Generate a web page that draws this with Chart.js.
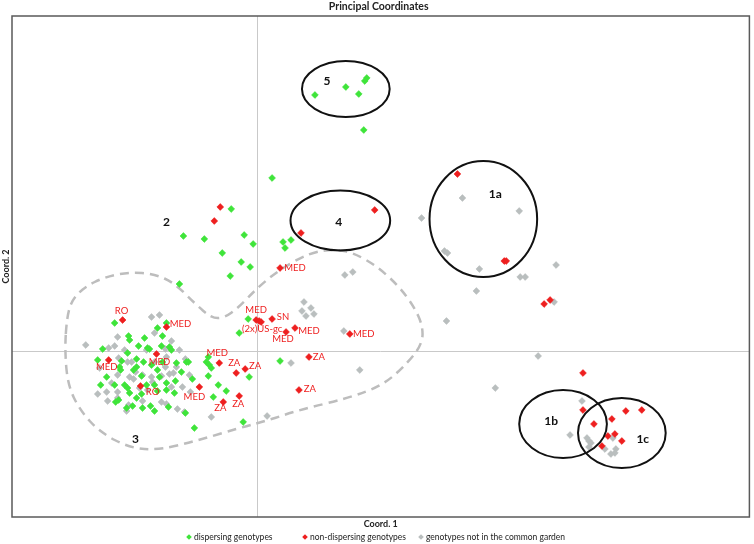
<!DOCTYPE html>
<html>
<head>
<meta charset="utf-8">
<title>Principal Coordinates</title>
<script src="https://cdn.jsdelivr.net/npm/chart.js@4.4.1/dist/chart.umd.min.js"></script>
<style>
    html, body { margin: 0; padding: 0; background: #fff; }
    #pcoaChart { display: block; }
</style>
</head>
<body>
<canvas id="pcoaChart" width="754" height="544"></canvas>
<script>
// Axis ranges (PCoA units)
const xRange = [-0.246, 0.494];
const yRange = [-0.166, 0.335];

// dispersing genotypes [coord1, coord2]
const dispersing = [
    [0.058, 0.256], [0.089, 0.264], [0.102, 0.257], [0.108, 0.270], [0.110, 0.273], [0.107, 0.221],
    [0.015, 0.173], [-0.026, 0.142], [-0.074, 0.115], [-0.053, 0.112], [-0.013, 0.116], [-0.004, 0.107],
    [-0.035, 0.098], [-0.016, 0.089], [-0.007, 0.084], [0.026, 0.109], [0.034, 0.111], [0.028, 0.103],
    [-0.027, 0.075], [-0.078, 0.067], [-0.009, 0.032], [-0.018, 0.018], [0.023, -0.010], [-0.008, -0.026],
    [-0.014, -0.071], [-0.063, -0.077], [-0.072, -0.062], [-0.049, -0.006], [-0.051, -0.011], [-0.048, -0.014],
    [-0.046, -0.017], [-0.069, -0.011], [-0.065, -0.028], [-0.049, -0.025], [-0.039, -0.034], [-0.031, -0.040],
    [-0.044, -0.046],
    [-0.143, 0.028], [-0.091, 0.028], [-0.100, 0.023], [-0.129, 0.015], [-0.113, 0.013], [-0.095, 0.015],
    [-0.130, -0.002], [-0.119, 0.005], [-0.110, 0.003], [-0.096, 0.005], [-0.088, 0.004], [-0.155, 0.002],
    [-0.160, -0.009], [-0.138, -0.016], [-0.136, -0.010], [-0.121, -0.008], [-0.114, -0.011], [-0.095, -0.011],
    [-0.081, -0.012], [-0.071, -0.011], [-0.151, -0.026], [-0.124, -0.019], [-0.100, -0.019], [-0.076, -0.021],
    [-0.157, -0.034], [-0.133, -0.034], [-0.130, -0.037], [-0.103, -0.034], [-0.091, -0.032], [-0.128, -0.042],
    [-0.121, -0.047], [-0.100, -0.040], [-0.091, -0.039], [-0.083, -0.042], [-0.142, -0.051], [-0.139, -0.049],
    [-0.125, -0.055], [-0.107, -0.055], [-0.115, -0.057], [-0.103, -0.060], [-0.131, -0.057], [-0.089, -0.056],
    [-0.143, -0.034], [-0.108, 0.002], [-0.086, 0.001], [-0.137, -0.019], [-0.116, -0.025], [-0.098, -0.026],
    [-0.128, 0.011], [-0.082, -0.030], [-0.121, -0.016], [-0.106, -0.014], [-0.111, -0.034], [-0.116, -0.043]
];

// non-dispersing genotypes [coord1, coord2]
const nonDispersing = [
    [-0.135, 0.031], [-0.091, 0.024], [-0.101, -0.003], [-0.149, -0.009], [-0.117, -0.035],
    [-0.001, 0.031], [0.002, 0.030], [0.004, 0.029], [0.015, 0.032], [0.029, 0.019], [0.038, 0.023],
    [-0.038, -0.012], [-0.021, -0.022], [-0.012, -0.018], [-0.058, -0.036], [-0.034, -0.051], [-0.018, -0.045],
    [0.042, -0.039], [0.023, 0.083], [0.052, -0.006], [0.093, 0.017],
    [-0.037, 0.144], [-0.043, 0.130], [0.044, 0.118], [0.118, 0.141], [0.201, 0.177],
    [0.248, 0.090], [0.250, 0.090], [0.288, 0.047], [0.294, 0.051],
    [0.327, -0.022], [0.327, -0.059], [0.338, -0.073], [0.356, -0.068], [0.370, -0.060], [0.386, -0.059],
    [0.352, -0.085], [0.359, -0.083], [0.366, -0.090], [0.346, -0.095]
];

// genotypes not in the common garden [coord1, coord2]
const notInGarden = [
    [-0.106, 0.034], [-0.098, 0.036], [-0.103, 0.018], [-0.086, 0.010], [-0.140, 0.014], [-0.149, 0.003],
    [-0.143, 0.005], [-0.092, 0.002], [-0.078, 0.001], [-0.172, 0.006], [-0.139, -0.007], [-0.130, -0.011],
    [-0.103, -0.011], [-0.091, -0.006], [-0.081, -0.016], [-0.072, -0.008], [-0.140, -0.024], [-0.115, -0.024],
    [-0.106, -0.026], [-0.096, -0.025], [-0.084, -0.022], [-0.068, -0.024], [-0.146, -0.032], [-0.124, -0.028],
    [-0.105, -0.031], [-0.160, -0.043], [-0.151, -0.041], [-0.140, -0.041], [-0.110, -0.039], [-0.075, -0.036],
    [-0.067, -0.041], [-0.140, -0.047], [-0.150, -0.050], [-0.115, -0.050], [-0.096, -0.051], [-0.091, -0.053],
    [-0.131, -0.060], [-0.080, -0.058], [-0.073, -0.061], [-0.122, -0.021], [-0.046, -0.066], [0.010, -0.065],
    [0.034, -0.012], [0.103, -0.019], [-0.158, -0.017], [-0.133, 0.001], [-0.118, -0.037],
    [-0.111, 0.001], [-0.126, -0.011], [-0.092, -0.016], [-0.128, -0.026], [-0.088, -0.023], [-0.086, -0.036],
    [-0.129, -0.054],
    [0.047, 0.049], [0.045, 0.040], [0.054, 0.043], [0.049, 0.035], [0.057, 0.037], [0.087, 0.020],
    [0.088, 0.076], [0.096, 0.079], [0.206, 0.153], [0.165, 0.133], [0.263, 0.140], [0.188, 0.100],
    [0.191, 0.098], [0.223, 0.082], [0.264, 0.074], [0.269, 0.074], [0.300, 0.086], [0.220, 0.060],
    [0.298, 0.049], [0.190, 0.030], [0.282, -0.005], [0.239, -0.037], [0.326, -0.050], [0.314, -0.084],
    [0.331, -0.087], [0.333, -0.090], [0.333, -0.096], [0.349, -0.098], [0.357, -0.087], [0.360, -0.098],
    [0.359, -0.102], [0.355, -0.103], [0.335, -0.092]
];

// origin labels of non-dispersing genotypes [text, coord1, coord2]
const originLabels = [
    ['RO', -0.136, 0.040], ['MED', -0.077, 0.027], ['MED', -0.098, -0.011], ['MED', -0.151, -0.016],
    ['RO', -0.105, -0.041], ['MED', -0.001, 0.041], ['SN', 0.026, 0.034], ['(2x)US-gc', 0.005, 0.022],
    ['MED', 0.026, 0.012], ['MED', 0.052, 0.020], ['MED', -0.040, -0.002], ['ZA', -0.023, -0.012],
    ['ZA', -0.002, -0.015], ['MED', -0.063, -0.046], ['ZA', -0.037, -0.057], ['ZA', -0.019, -0.053],
    ['ZA', 0.053, -0.038], ['MED', 0.038, 0.083], ['ZA', 0.062, -0.006], ['MED', 0.107, 0.017]
];

// groups circled [name, centre coord1, centre coord2, radius coord1, radius coord2]
const groupEllipses = [
    ['5', 0.089, 0.262, 0.044, 0.028],
    ['4', 0.0835, 0.1305, 0.050, 0.030],
    ['1a', 0.227, 0.132, 0.054, 0.058],
    ['1b', 0.307, -0.073, 0.044, 0.034],
    ['1c', 0.366, -0.082, 0.044, 0.035]
];

// group names [text, coord1, coord2]
const groupLabels = [
    ['5', 0.070, 0.270], ['4', 0.082, 0.129], ['1a', 0.239, 0.157], ['1b', 0.295, -0.070],
    ['1c', 0.387, -0.088], ['2', -0.091, 0.129], ['3', -0.122, -0.088]
];

// outline of group 3 (dashed)
const group3Outline = [
    [-0.191, 0.033], [-0.186, 0.051], [-0.173, 0.064], [-0.153, 0.074], [-0.128, 0.079], [-0.103, 0.077],
    [-0.083, 0.068], [-0.063, 0.048], [-0.046, 0.033], [-0.033, 0.033], [-0.018, 0.044], [0.000, 0.063],
    [0.022, 0.081], [0.052, 0.098], [0.077, 0.102], [0.097, 0.098], [0.120, 0.085], [0.142, 0.065],
    [0.157, 0.045], [0.166, 0.026], [0.166, 0.008], [0.152, -0.011], [0.127, -0.034], [0.092, -0.047],
    [0.042, -0.059], [0.012, -0.069], [-0.018, -0.077], [-0.058, -0.089], [-0.098, -0.099], [-0.128, -0.097],
    [-0.158, -0.081], [-0.178, -0.059], [-0.190, -0.034], [-0.193, 0.001]
];

const seriesNames = ['dispersing genotypes', 'non-dispersing genotypes', 'genotypes not in the common garden'];

const GREEN = '#3fe43a';
const RED = '#ee1f1f';
const GRAY = '#b9bebe';
const FONT = "Lato, 'Open Sans', sans-serif";

/**
 * Turn [x, y] pairs into Chart.js points
 */
function toPoints(list) {
    return list.map(p => ({ x: p[0], y: p[1] }));
}

/**
 * Build one scatter dataset
 */
function makeDataset(label, list, color, order) {
    return {
        label: label,
        data: toPoints(list),
        pointStyle: 'rectRot',
        pointRadius: 3.4,
        pointBorderWidth: 0.6,
        backgroundColor: color,
        borderColor: color,
        order: order
    };
}

// Draws zero lines, outlines, labels, frame, titles and legend
const decorPlugin = {
    id: 'decor',
    beforeDatasetsDraw(chart) {
        const { ctx, chartArea: a, scales: { x, y } } = chart;
        ctx.save();

        // zero lines
        ctx.strokeStyle = '#c9c9c9';
        ctx.lineWidth = 1;
        const x0 = Math.round(x.getPixelForValue(0)) + 0.5;
        const y0 = Math.round(y.getPixelForValue(0)) + 0.5;
        ctx.beginPath();
        ctx.moveTo(x0, a.top);
        ctx.lineTo(x0, a.bottom);
        ctx.moveTo(a.left, y0);
        ctx.lineTo(a.right, y0);
        ctx.stroke();

        // dashed outline of group 3, smoothed through midpoints
        const pts = group3Outline.map(p => [x.getPixelForValue(p[0]), y.getPixelForValue(p[1])]);
        const n = pts.length;
        const mid = (p, q) => [(p[0] + q[0]) / 2, (p[1] + q[1]) / 2];
        ctx.strokeStyle = '#bdbdbd';
        ctx.lineWidth = 2.5;
        ctx.setLineDash([9, 6]);
        ctx.beginPath();
        let start = mid(pts[n - 1], pts[0]);
        ctx.moveTo(start[0], start[1]);
        for (let i = 0; i < n; i++) {
            const m = mid(pts[i], pts[(i + 1) % n]);
            ctx.quadraticCurveTo(pts[i][0], pts[i][1], m[0], m[1]);
        }
        ctx.stroke();
        ctx.setLineDash([]);
        ctx.restore();
    },
    afterDatasetsDraw(chart) {
        const { ctx, chartArea: a, scales: { x, y } } = chart;
        ctx.save();

        // group ellipses
        ctx.strokeStyle = '#111';
        ctx.lineWidth = 2;
        groupEllipses.forEach(e => {
            const cx = x.getPixelForValue(e[1]);
            const cy = y.getPixelForValue(e[2]);
            const rx = Math.abs(x.getPixelForValue(e[1] + e[3]) - cx);
            const ry = Math.abs(y.getPixelForValue(e[2] + e[4]) - cy);
            ctx.beginPath();
            ctx.ellipse(cx, cy, rx, ry, 0, 0, Math.PI * 2);
            ctx.stroke();
        });

        // origin labels
        ctx.fillStyle = RED;
        ctx.font = '9.5px ' + FONT;
        ctx.textAlign = 'center';
        ctx.textBaseline = 'middle';
        originLabels.forEach(l => {
            ctx.fillText(l[0], x.getPixelForValue(l[1]), y.getPixelForValue(l[2]));
        });

        // group names
        ctx.fillStyle = '#111';
        ctx.font = 'bold 12px ' + FONT;
        groupLabels.forEach(l => {
            ctx.fillText(l[0], x.getPixelForValue(l[1]), y.getPixelForValue(l[2]));
        });

        // plot frame
        ctx.strokeStyle = '#5a5a5a';
        ctx.lineWidth = 1.5;
        ctx.strokeRect(a.left, a.top, a.right - a.left, a.bottom - a.top);

        // chart title and axis titles
        const cx = (a.left + a.right) / 2;
        ctx.fillStyle = '#222';
        ctx.font = 'bold 10.5px ' + FONT;
        ctx.fillText('Principal Coordinates', cx - 2, 7);
        ctx.font = 'bold 9px ' + FONT;
        ctx.fillText('Coord. 1', cx, 524);
        ctx.save();
        ctx.translate(6, (a.top + a.bottom) / 2);
        ctx.rotate(-Math.PI / 2);
        ctx.fillText('Coord. 2', 0, 0);
        ctx.restore();

        // legend
        const colors = [GREEN, RED, GRAY];
        const markerX = [189, 305, 421];
        ctx.font = '8.5px ' + FONT;
        ctx.textAlign = 'left';
        seriesNames.forEach((name, i) => {
            const mx = markerX[i];
            const my = 537;
            ctx.fillStyle = colors[i];
            ctx.beginPath();
            ctx.moveTo(mx, my - 2.8);
            ctx.lineTo(mx + 2.8, my);
            ctx.lineTo(mx, my + 2.8);
            ctx.lineTo(mx - 2.8, my);
            ctx.closePath();
            ctx.fill();
            ctx.fillStyle = '#222';
            ctx.fillText(name, mx + 5, my);
        });
        ctx.restore();
    }
};

/**
 * Create the PCoA scatter chart
 */
function initPcoaChart() {
    const ctx = document.getElementById('pcoaChart').getContext('2d');
    window.pcoaChart = new Chart(ctx, {
        type: 'scatter',
        data: {
            datasets: [
                makeDataset(seriesNames[0], dispersing, GREEN, 1),
                makeDataset(seriesNames[1], nonDispersing, RED, 0),
                makeDataset(seriesNames[2], notInGarden, GRAY, 2)
            ]
        },
        options: {
            responsive: false,
            animation: false,
            devicePixelRatio: 1,
            layout: {
                padding: { left: 12, right: 2, top: 16, bottom: 27 }
            },
            plugins: {
                legend: { display: false },
                title: { display: false },
                tooltip: { enabled: false }
            },
            scales: {
                x: { type: 'linear', min: xRange[0], max: xRange[1], display: false },
                y: { type: 'linear', min: yRange[0], max: yRange[1], display: false }
            }
        },
        plugins: [decorPlugin]
    });
}

initPcoaChart();
</script>
</body>
</html>
